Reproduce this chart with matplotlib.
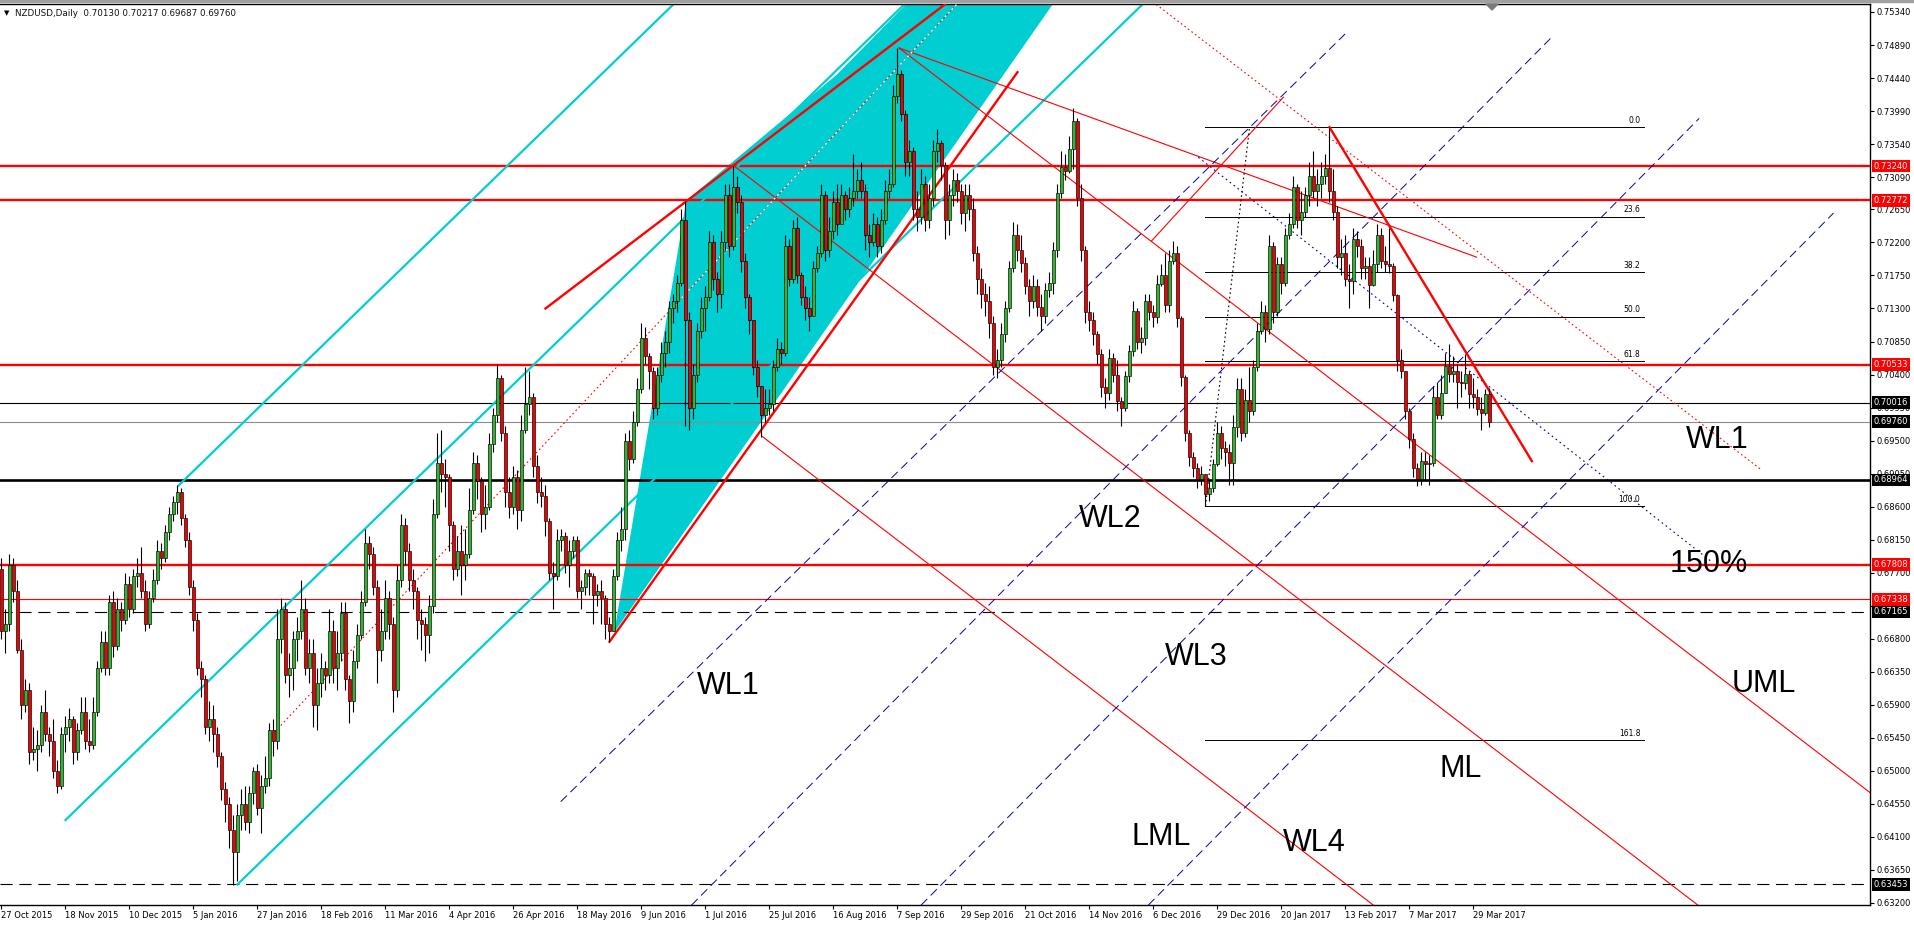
"""NZDUSD daily MT4 chart with pitchfork / channel / fib drawings."""
import matplotlib
matplotlib.use('Agg')
import matplotlib.pyplot as plt
from matplotlib.patches import Polygon, Rectangle
import numpy as np

W, H = 1915, 925

# ---- daily candles, in pips (1e-4); open = previous close ----
first_open = 6775
close_pips = [
    6690, 6700, 6780, 6745, 6665, 6590, 6610, 6525, 6530, 6535, 6580, 6550, 6540, 6500, 6480, 6550, 6560,
    6570, 6525, 6555, 6580, 6540, 6535, 6580, 6640, 6675, 6640, 6730, 6670, 6720, 6705, 6755, 6720, 6765,
    6770, 6745, 6700, 6735, 6760, 6800, 6790, 6825, 6850, 6866, 6880,
    6845, 6815, 6750, 6705, 6640, 6625, 6560, 6570, 6550, 6520, 6475, 6455, 6420, 6390, 6440,
    6455, 6430, 6470, 6500, 6450, 6480, 6490, 6555, 6540, 6680, 6720, 6630, 6640, 6680, 6690, 6720, 6640,
    6660, 6590, 6620, 6640, 6630, 6690, 6640, 6660, 6715, 6625, 6595, 6650, 6685, 6730, 6810, 6795, 6750,
    6665, 6690, 6735, 6700, 6610, 6760,
    6835, 6800, 6760, 6745, 6705, 6700, 6685, 6725, 6850, 6920, 6905, 6900, 6835, 6775, 6800, 6780, 6795,
    6855, 6920, 6895, 6850, 6860, 6945, 6985, 7035, 6960, 6880, 6860, 6900, 6855, 6965, 7000, 7010, 6915,
    6880, 6875, 6840, 6770, 6765, 6815, 6820, 6780, 6800, 6815, 6745, 6750, 6770, 6765, 6740, 6745, 6735,
    6700, 6690, 6765, 6815, 6830,
    6950, 6925, 6975, 7020, 7090, 7065, 7045, 6995, 7040, 7070, 7085, 7130, 7140, 7165, 7250, 7115, 6995,
    7040, 7100, 7130, 7145, 7220, 7170, 7150, 7220, 7285, 7215, 7295, 7275, 7195, 7145, 7115, 7050, 7025,
    6985, 6995, 7000, 7050, 7075, 7070, 7215, 7170, 7240, 7175,
    7145, 7130, 7120, 7185, 7205, 7285, 7210, 7235, 7275, 7245, 7285, 7265, 7280, 7290, 7305, 7290, 7230,
    7220, 7245, 7215, 7250, 7290, 7300, 7420, 7450, 7395, 7330, 7345, 7265, 7255, 7300, 7250, 7280, 7345,
    7355, 7325, 7250, 7285, 7305, 7290, 7260, 7285, 7265, 7205, 7170, 7150, 7140, 7110, 7050, 7060,
    7095, 7130, 7185, 7230, 7210, 7192, 7160, 7140, 7160, 7132, 7120, 7155, 7165, 7210, 7287, 7323, 7318,
    7348, 7385, 7280, 7210, 7125, 7115, 7095, 7068, 7023, 7015, 7062, 7040, 7004, 6995, 7038, 7072, 7127,
    7085, 7090, 7140, 7125, 7118, 7164, 7175, 7135, 7195, 7205, 7117, 7036, 6960, 6927, 6913, 6897,
    6905, 6877, 6885, 6918, 6960, 6940, 6935, 6920, 6968, 7020, 6960, 7005, 6990, 7050, 7100, 7125, 7102,
    7215, 7125, 7190, 7165, 7230, 7245, 7295, 7250, 7262, 7284, 7310, 7290, 7300, 7310, 7322, 7290, 7262,
    7200, 7205, 7170, 7168, 7225, 7215, 7185, 7188, 7162, 7190, 7230, 7195, 7190, 7188, 7148, 7060, 7045,
    6990, 6952, 6913, 6897, 6922, 6918, 6920, 7010, 6985, 7015, 7052, 7041, 7045, 7030, 7028, 7041, 7013,
    7010, 6993, 6988, 7013, 6976,
]
high_pips = [
    6790, 6720, 6795, 6790, 6760, 6680, 6625, 6620, 6560, 6555, 6590, 6610, 6560, 6570, 6515, 6560, 6575,
    6585, 6575, 6565, 6600, 6600, 6570, 6600, 6650, 6690, 6690, 6740, 6745, 6735, 6730, 6770, 6765, 6775,
    6790, 6805, 6760, 6745, 6775, 6815, 6810, 6835, 6860, 6875, 6889,
    6885, 6850, 6825, 6760, 6715, 6650, 6630, 6595, 6590, 6560, 6525, 6485, 6465, 6440, 6455,
    6475, 6480, 6480, 6505, 6510, 6495, 6520, 6565, 6570, 6720, 6735, 6730, 6660, 6690, 6710, 6760, 6735,
    6680, 6680, 6640, 6660, 6650, 6720, 6705, 6690, 6730, 6730, 6630, 6665, 6700, 6745, 6830, 6820, 6805,
    6760, 6720, 6760, 6745, 6710, 6780,
    6850, 6845, 6810, 6775, 6750, 6720, 6710, 6740, 6870, 6960, 6965, 6925, 6905, 6840, 6820, 6835, 6830,
    6885, 6935, 6930, 6900, 6890, 6960, 6995, 7055, 7040, 6970, 6900, 6915, 6910, 6985, 7050, 7045, 7015,
    6930, 6900, 6890, 6845, 6785, 6830, 6830, 6825, 6815, 6820, 6820, 6760, 6775, 6775, 6770, 6755, 6760,
    6740, 6710, 6775, 6825, 6860,
    6960, 6965, 6990, 7035, 7110, 7105, 7070, 7050, 7050, 7085, 7100, 7140, 7150, 7175, 7265, 7277, 7125,
    7055, 7110, 7145, 7160, 7235, 7230, 7180, 7235, 7300, 7300, 7324, 7310, 7285, 7205, 7150, 7110, 7060,
    7025, 7020, 7020, 7060, 7090, 7085, 7230, 7225, 7250, 7255,
    7180, 7160, 7145, 7195, 7215, 7300, 7290, 7255, 7290, 7300, 7300, 7290, 7295, 7340, 7320, 7330, 7300,
    7245, 7260, 7255, 7265, 7305, 7320, 7435, 7485, 7455, 7400, 7360, 7350, 7290, 7320, 7310, 7300, 7360,
    7375, 7360, 7330, 7300, 7320, 7315, 7300, 7300, 7300, 7280, 7215, 7185, 7165, 7160, 7120, 7075,
    7110, 7140, 7195, 7248, 7245, 7230, 7200, 7170, 7175, 7170, 7150, 7165, 7180, 7220, 7300, 7345, 7340,
    7365, 7403, 7390, 7300, 7215, 7140, 7125, 7100, 7075, 7035, 7075, 7070, 7060, 7010, 7045, 7080, 7140,
    7130, 7105, 7150, 7150, 7135, 7175, 7190, 7205, 7210, 7222, 7215, 7120, 7040, 6965, 6935, 6920,
    6915, 6905, 6895, 6925, 6975, 6970, 6950, 6945, 6985, 7035, 7035, 7020, 7050, 7060, 7110, 7140, 7135,
    7230, 7220, 7200, 7200, 7240, 7260, 7310, 7300, 7290, 7295, 7330, 7345, 7320, 7330, 7340, 7376, 7320,
    7270, 7225, 7230, 7190, 7240, 7235, 7225, 7200, 7200, 7210, 7245, 7240, 7215, 7240, 7192, 7150, 7075,
    7045, 6995, 6960, 6920, 6935, 6935, 6930, 7025, 7030, 7040, 7070, 7082, 7065, 7055, 7045, 7068, 7045,
    7035, 7020, 7010, 7020, 7022,
]
low_pips = [
    6680, 6660, 6690, 6730, 6660, 6570, 6580, 6510, 6515, 6500, 6525, 6540, 6520, 6490, 6470, 6475, 6525,
    6540, 6510, 6515, 6550, 6530, 6525, 6530, 6575, 6635, 6630, 6630, 6655, 6665, 6690, 6700, 6710, 6715,
    6750, 6735, 6690, 6695, 6730, 6755, 6775, 6785, 6815, 6840, 6850,
    6835, 6805, 6740, 6690, 6630, 6600, 6550, 6540, 6525, 6505, 6460, 6430, 6395, 6345, 6350,
    6420, 6420, 6415, 6455, 6440, 6415, 6470, 6480, 6520, 6530, 6660, 6620, 6600, 6610, 6650, 6680, 6630,
    6620, 6560, 6555, 6600, 6610, 6620, 6620, 6610, 6650, 6610, 6565, 6580, 6640, 6680, 6725, 6775, 6740,
    6620, 6650, 6680, 6680, 6580, 6600,
    6750, 6780, 6745, 6720, 6680, 6665, 6650, 6660, 6715, 6845, 6880, 6860, 6800, 6760, 6765, 6740, 6760,
    6790, 6850, 6870, 6825, 6830, 6855, 6935, 6975, 6950, 6860, 6845, 6850, 6830, 6840, 6960, 6985, 6900,
    6865, 6860, 6820, 6760, 6720, 6760, 6800, 6770, 6750, 6790, 6735, 6720, 6740, 6740, 6700, 6725, 6700,
    6680, 6676, 6690, 6760, 6800,
    6815, 6910, 6920, 6970, 7015, 7055, 7020, 6980, 6985, 7030, 7050, 7070, 7110, 7125, 7160, 6970, 6965,
    6980, 7030, 7090, 7100, 7140, 7155, 7125, 7130, 7210, 7200, 7210, 7260, 7180, 7130, 7095, 7040, 7010,
    6955, 6975, 6985, 6990, 7045, 7055, 7065, 7160, 7165, 7165,
    7135, 7115, 7100, 7120, 7180, 7200, 7195, 7200, 7225, 7230, 7245, 7250, 7255, 7270, 7280, 7280, 7210,
    7200, 7215, 7200, 7205, 7245, 7280, 7295, 7410, 7385, 7310, 7310, 7250, 7235, 7245, 7235, 7240, 7270,
    7330, 7305, 7225, 7230, 7270, 7275, 7245, 7235, 7250, 7195, 7150, 7130, 7120, 7090, 7040, 7035,
    7050, 7085, 7125, 7180, 7195, 7180, 7150, 7120, 7130, 7120, 7100, 7110, 7145, 7150, 7200, 7280, 7305,
    7315, 7320, 7270, 7195, 7110, 7100, 7080, 7055, 7010, 6995, 7005, 7030, 6990, 6970, 6990, 7030, 7065,
    7075, 7070, 7080, 7115, 7105, 7110, 7160, 7125, 7125, 7190, 7105, 7025, 6950, 6915, 6900, 6885,
    6890, 6861, 6868, 6880, 6915, 6925, 6915, 6890, 6890, 6955, 6950, 6955, 6975, 6985, 7045, 7095, 7085,
    7095, 7110, 7120, 7150, 7160, 7225, 7240, 7240, 7230, 7255, 7270, 7280, 7270, 7280, 7300, 7275, 7250,
    7185, 7175, 7160, 7130, 7150, 7200, 7170, 7170, 7130, 7160, 7180, 7185, 7180, 7178, 7140, 7045, 7035,
    6980, 6940, 6900, 6888, 6890, 6895, 6890, 6915, 6980, 6980, 7015, 7030, 7030, 6995, 7010, 7020, 6995,
    6995, 6985, 6965, 6985, 6969,
]

date_labels = ['27 Oct 2015', '18 Nov 2015', '10 Dec 2015', '5 Jan 2016', '27 Jan 2016', '18 Feb 2016',
               '11 Mar 2016', '4 Apr 2016', '26 Apr 2016', '18 May 2016', '9 Jun 2016', '1 Jul 2016',
               '25 Jul 2016', '16 Aug 2016', '7 Sep 2016', '29 Sep 2016', '21 Oct 2016', '14 Nov 2016',
               '6 Dec 2016', '29 Dec 2016', '20 Jan 2017', '13 Feb 2017', '7 Mar 2017', '29 Mar 2017']
date_bars = list(range(0, 16 * len(date_labels), 16))

price_ticks = ['0.75340', '0.74890', '0.74440', '0.73990', '0.73540', '0.73090', '0.72650', '0.72200',
               '0.71750', '0.71300', '0.70850', '0.70400', '0.69950', '0.69500', '0.69050', '0.68600',
               '0.68150', '0.67700', '0.67250', '0.66800', '0.66350', '0.65900', '0.65450', '0.65000',
               '0.64550', '0.64100', '0.63650', '0.63200']

# horizontal levels: price, line colour, width, dashed?, label box colour
levels = [0.73240, 0.72772, 0.70533, 0.70016, 0.69760, 0.68964, 0.67808, 0.67338, 0.67165, 0.63453]
level_colors = ['#FF0000', '#FF0000', '#FF0000', '#000000', '#8C8C8C', '#000000', '#FF0000', '#FF0000',
                '#000000', '#000000']
level_widths = [1.7, 1.7, 1.7, 0.8, 0.8, 1.9, 1.7, 0.8, 0.8, 0.8]
level_dashed = [False] * 8 + [True, True]
level_boxes = ['#FF0000', '#FF0000', '#FF0000', '#000000', '#000000', '#000000', '#FF0000', '#FF0000',
               '#000000', '#000000']

# fibonacci retracement
fib_high, fib_low = 0.7377, 0.6861
fib_ratios = [0.0, 23.6, 38.2, 50.0, 61.8, 100.0, 161.8]
fib_start, fib_end = 301, 410.7

# hand-drawn objects: (bar, price) anchors
chan_slope = 0.00053
chan_starts = [(44.3, 0.6889), (16, 0.6433), (59, 0.63453)]
pf_slope = -0.000418
pf_starts = [(183.2, 0.7324), (224.4, 0.7485), (190.1, 0.6956)]   # ML, UML, LML
red_thick = [[(136, 0.7130), (236, 0.7545)],
             [(152, 0.6676), (254, 0.7452)],
             [(332, 0.7377), (382.6, 0.6922)]]
red_thin = [[(224.4, 0.7485), (368.75, 0.7200)],
            [(287.5, 0.7222), (320.5, 0.7418)]]
red_dotted = [[(68.3, 0.6553), (238.9, 0.7545)],
              [(287.8, 0.7548), (440, 0.6910)]]
blue_dashed = [[(139.8, 0.6458), (335.9, 0.7504)],
               [(172.5, 0.6317), (387.8, 0.7501)],
               [(229.9, 0.6317), (424.4, 0.7389)],
               [(286.7, 0.6317), (458, 0.7260)]]
navy_dotted = [(299.2, 0.7336), (427.5, 0.6785)]
fib_dotted = [(301, 0.6861), (312, 0.7377)]
fill_poly = [(153.2, 0.6689), (171.2, 0.7277), (208.9, 0.7449), (226.4, 0.7546), (263, 0.7546)]

labels = [('WL1', 181.7, 0.6616), ('WL2', 277.2, 0.6843), ('WL3', 298.6, 0.6655), ('WL4', 328.2, 0.6402),
          ('LML', 290, 0.6410), ('ML', 364.8, 0.6503), ('UML', 440.6, 0.6618), ('WL1', 429, 0.6951),
          ('150%', 426.9, 0.6782)]

# ---------------------------------------------------------------------
closes = np.array(close_pips) / 1e4
highs = np.array(high_pips) / 1e4
lows = np.array(low_pips) / 1e4
opens = np.concatenate([[first_open / 1e4], closes[:-1]])
highs = np.maximum(highs, np.maximum(opens, closes))
lows = np.minimum(lows, np.minimum(opens, closes))
x = np.arange(len(closes))

CYAN = '#00CED1'
fig = plt.figure(figsize=(W / 100, H / 100), dpi=100)
fig.patch.set_facecolor('white')
ax = fig.add_axes([0, 20 / H, 1870 / W, 901 / H])
ax.set_xlim(-0.375, 467.125)
ax.set_ylim(0.63172, 0.75449)

# filled triangle
poly = Polygon(fill_poly, closed=True, facecolor=CYAN, edgecolor='none', zorder=1)
ax.add_patch(poly)

# horizontal levels
for p, c, lw, dashed in zip(levels, level_colors, level_widths, level_dashed):
    ls = (0, (11, 6)) if dashed else '-'
    ax.axhline(p, color=c, lw=lw, ls=ls, zorder=2)

# channel lines
for bx, by in chan_starts:
    ax.plot([bx, bx + 300], [by, by + 300 * chan_slope], color=CYAN, lw=1.6, zorder=2.5)

# pitchfork
for bx, by in pf_starts:
    ax.plot([bx, bx + 400], [by, by + 400 * pf_slope], color='#FF0000', lw=0.8, zorder=2.5)

for seg in red_thick:
    (x0, y0), (x1, y1) = seg
    ax.plot([x0, x1], [y0, y1], color='#FF0000', lw=1.7, zorder=2.6)
for seg in red_thin:
    (x0, y0), (x1, y1) = seg
    ax.plot([x0, x1], [y0, y1], color='#FF0000', lw=0.8, zorder=2.5)
for seg in red_dotted:
    (x0, y0), (x1, y1) = seg
    ax.plot([x0, x1], [y0, y1], color='#FF0000', lw=0.8, ls=(0, (1.5, 2.5)), zorder=2.5)
(x0, y0), (x1, y1) = red_dotted[0]
wl, = ax.plot([x0, x1], [y0, y1], color='white', lw=0.9, ls=(0, (1.5, 2.5)), zorder=2.7)
wl.set_clip_path(poly)

for seg in blue_dashed:
    (x0, y0), (x1, y1) = seg
    ax.plot([x0, x1], [y0, y1], color='#0000B0', lw=0.7, ls=(0, (9, 5)), zorder=2.5)
(x0, y0), (x1, y1) = navy_dotted
ax.plot([x0, x1], [y0, y1], color='#000080', lw=0.8, ls=(0, (1.5, 3)), zorder=2.5)

# fibonacci
for r in fib_ratios:
    p = fib_high - r / 100 * (fib_high - fib_low)
    ax.plot([fib_start, fib_end], [p, p], color='black', lw=0.7, zorder=2.4)
    txt = f'{r:.1f}'
    ax.text(fib_end - 1, p + 0.0003, txt, fontsize=5.5, ha='right', va='bottom', color='black',
            family='DejaVu Sans', zorder=3)
(x0, y0), (x1, y1) = fib_dotted
ax.plot([x0, x1], [y0, y1], color='black', lw=0.8, ls=(0, (1.5, 2.5)), zorder=2.5)

# candles
up = closes >= opens
ax.vlines(x, lows, highs, color='black', lw=0.8, zorder=4)
body_lo = np.minimum(opens, closes)
body_h = np.maximum(np.abs(closes - opens), 0.00004)
ax.bar(x[up], body_h[up], bottom=body_lo[up], width=0.78, color='#2FB52F', edgecolor='black',
       linewidth=0.45, zorder=5)
ax.bar(x[~up], body_h[~up], bottom=body_lo[~up], width=0.78, color='#F00000', edgecolor='black',
       linewidth=0.45, zorder=5)

# big text labels
for t, bx, by in labels:
    ax.text(bx, by, t, fontsize=22, ha='center', va='center', family='Liberation Sans', zorder=6)

# axes styling
ax.spines['left'].set_visible(False)
for s in ['top', 'right', 'bottom']:
    ax.spines[s].set_linewidth(1.0)
ax.yaxis.tick_right()
ax.set_yticks([float(v) for v in price_ticks])
ax.set_yticklabels(price_ticks)
ax.tick_params(axis='y', direction='out', length=3, width=0.8, pad=2, labelsize=6)
ax.set_xticks(date_bars)
ax.set_xticklabels(date_labels)
ax.tick_params(axis='x', direction='out', length=3, width=0.8, pad=1.5, labelsize=6)
for lbl in ax.get_xticklabels():
    lbl.set_horizontalalignment('left')
for lbl in ax.get_yticklabels() + ax.get_xticklabels():
    lbl.set_family('DejaVu Sans')

# price boxes on the axis
for p, bc in zip(levels, level_boxes):
    ax.text(1.0018, p, f'{p:.5f}', transform=ax.get_yaxis_transform(), ha='left', va='center',
            fontsize=6, color='white', family='DejaVu Sans', clip_on=False, zorder=10,
            bbox=dict(boxstyle='square,pad=0.22', fc=bc, ec='none'))

# header and frame decorations
fig.patches.append(Rectangle((0, 1 - 2 / H), 1, 2 / H, transform=fig.transFigure, color='#A0A0A0'))
fig.patches.append(Polygon([(1486 / W, 1 - 4 / H), (1498 / W, 1 - 4 / H), (1492 / W, 1 - 10 / H)],
                           closed=True, transform=fig.transFigure, color='#7A7A7A', zorder=20))
fig.text(4 / W, 1 - 13 / H, '▼', fontsize=5, va='center', ha='left', family='DejaVu Sans')
fig.text(15 / W, 1 - 13 / H, 'NZDUSD,Daily  0.70130 0.70217 0.69687 0.69760', fontsize=6.3,
         va='center', ha='left', family='DejaVu Sans', color='#111111')

fig.savefig('out.png', dpi=100)
